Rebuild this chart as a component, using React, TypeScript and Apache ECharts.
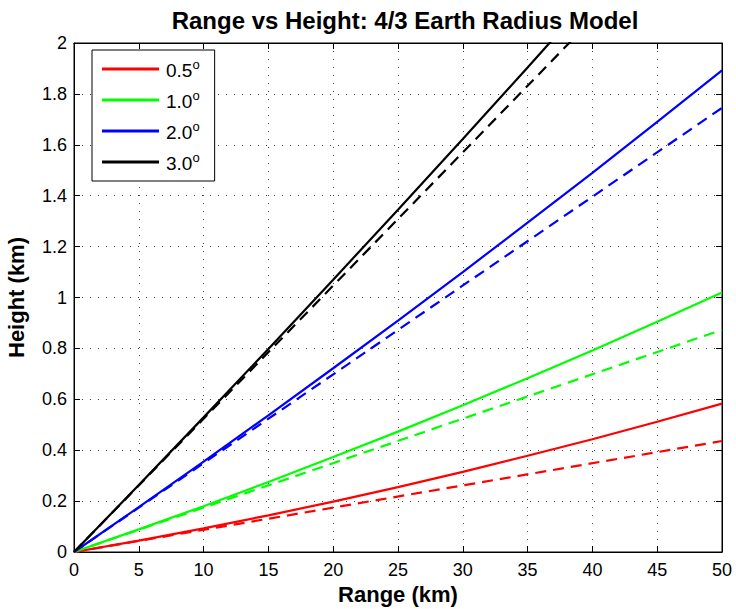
import React, { useEffect, useRef } from "react";
import * as echarts from "echarts";

const rangeKm = [0, 5, 10, 15, 20, 25, 30, 35, 40, 45, 50];
const solid05 = [0, 0.045, 0.093, 0.144, 0.198, 0.255, 0.315, 0.378, 0.443, 0.512, 0.583];
const solid10 = [0, 0.089, 0.18, 0.275, 0.373, 0.473, 0.577, 0.683, 0.792, 0.905, 1.02];
const solid20 = [0, 0.176, 0.355, 0.537, 0.722, 0.909, 1.1, 1.294, 1.49, 1.69, 1.892];
const solid30 = [0, 0.263, 0.529, 0.798, 1.07, 1.345, 1.623, 1.904, 2.188, 2.47, 2.76];
const flatRange = [0, 50];
const flat05 = [0, 0.436];
const flat10 = [0, 0.873];
const flat20 = [0, 1.745];
const flat30 = [0, 2.617];
const legendNames = ["0.5", "1.0", "2.0", "3.0"];
const colors = ["#ff0000", "#00ff00", "#0000ff", "#000000"];
const xTicks = { min: 0, max: 50, interval: 5 };
const yTicks = { min: 0, max: 2, interval: 0.2 };

const FONT = "'Liberation Sans', Arial, Helvetica, sans-serif";

export default function App() {
  const ref = useRef<HTMLDivElement>(null);
  useEffect(() => {
    if (!ref.current) return;
    const chart = echarts.init(ref.current, undefined, { renderer: "svg" });
    const solids = [solid05, solid10, solid20, solid30];
    const flats = [flat05, flat10, flat20, flat30];
    const series: any[] = [];
    solids.forEach((s, i) => {
      series.push({
        name: legendNames[i],
        type: "line",
        data: rangeKm.map((x, j) => [x, s[j]]),
        symbol: "none",
        clip: true,
        lineStyle: { color: colors[i], width: 2.2 },
        itemStyle: { color: colors[i] },
        z: 3,
      });
    });
    flats.forEach((s, i) => {
      series.push({
        name: legendNames[i] + " flat",
        type: "line",
        data: flatRange.map((x, j) => [x, s[j]]),
        symbol: "none",
        clip: true,
        lineStyle: { color: colors[i], width: 2.2, type: [11, 7] },
        itemStyle: { color: colors[i] },
        z: 3,
      });
    });
    const grid = {
      left: 74, right: 14, top: 43, bottom: 57,
      containLabel: false, outerBoundsMode: "none",
      show: true, borderColor: "#000", borderWidth: 1, backgroundColor: "#fff",
    };
    const axisLabelStyle = { color: "#000", fontSize: 18, fontFamily: FONT };
    const splitLine = { show: true, lineStyle: { color: "#444", width: 1, type: [1, 7] } };
    chart.setOption({
      animation: false,
      backgroundColor: "#fff",
      title: {
        text: "Range vs Height: 4/3 Earth Radius Model",
        left: 400,
        top: 3,
        textAlign: "center",
        textStyle: { fontFamily: FONT, fontSize: 24, fontWeight: "bold", color: "#000" },
      },
      grid,
      legend: {
        data: legendNames,
        orient: "vertical",
        left: 92,
        top: 50,
        padding: [8, 15, 8, 10],
        itemGap: 9,
        itemWidth: 57,
        itemHeight: 3,
        icon: "rect",
        backgroundColor: "#fff",
        borderColor: "#000",
        borderWidth: 1,
        borderRadius: 0,
        formatter: (name: string) => `{n|${name}}{s|o}`,
        textStyle: {
          fontFamily: FONT,
          color: "#000",
          rich: {
            n: { fontSize: 19, fontFamily: FONT, color: "#000", lineHeight: 22, verticalAlign: "bottom", padding: [0, 0, 0, 2] },
            s: { fontSize: 13, fontFamily: FONT, color: "#000", lineHeight: 22, verticalAlign: "top" },
          },
        },
      },
      xAxis: [
        {
          type: "value",
          ...xTicks,
          position: "bottom",
          name: "Range (km)",
          nameLocation: "middle",
          nameGap: 29,
          nameTextStyle: { fontFamily: FONT, fontSize: 22, fontWeight: "bold", color: "#000" },
          axisLine: { show: true, onZero: false, lineStyle: { color: "#000", width: 1 } },
          axisTick: { show: true, inside: true, length: 6, lineStyle: { color: "#000" } },
          axisLabel: { ...axisLabelStyle, margin: 9 },
          splitLine,
        },
        {
          type: "value",
          ...xTicks,
          position: "top",
          axisLine: { show: true, onZero: false, lineStyle: { color: "#000", width: 1 } },
          axisTick: { show: true, inside: true, length: 6, lineStyle: { color: "#000" } },
          axisLabel: { show: false },
          splitLine: { show: false },
        },
      ],
      yAxis: [
        {
          type: "value",
          ...yTicks,
          position: "left",
          name: "Height (km)",
          nameLocation: "middle",
          nameGap: 47,
          nameTextStyle: { fontFamily: FONT, fontSize: 22, fontWeight: "bold", color: "#000" },
          axisLine: { show: true, onZero: false, lineStyle: { color: "#000", width: 1 } },
          axisTick: { show: true, inside: true, length: 6, lineStyle: { color: "#000" } },
          axisLabel: { ...axisLabelStyle, margin: 7, formatter: (v: number) => String(Math.round(v * 10) / 10) },
          splitLine,
        },
        {
          type: "value",
          ...yTicks,
          position: "right",
          axisLine: { show: true, onZero: false, lineStyle: { color: "#000", width: 1 } },
          axisTick: { show: true, inside: true, length: 6, lineStyle: { color: "#000" } },
          axisLabel: { show: false },
          splitLine: { show: false },
        },
      ],
      series,
    });
    return () => chart.dispose();
  }, []);
  return (
    <div
      ref={ref}
      style={{ position: "fixed", left: 0, top: 0, width: 736, height: 609, background: "#fff" }}
    />
  );
}
